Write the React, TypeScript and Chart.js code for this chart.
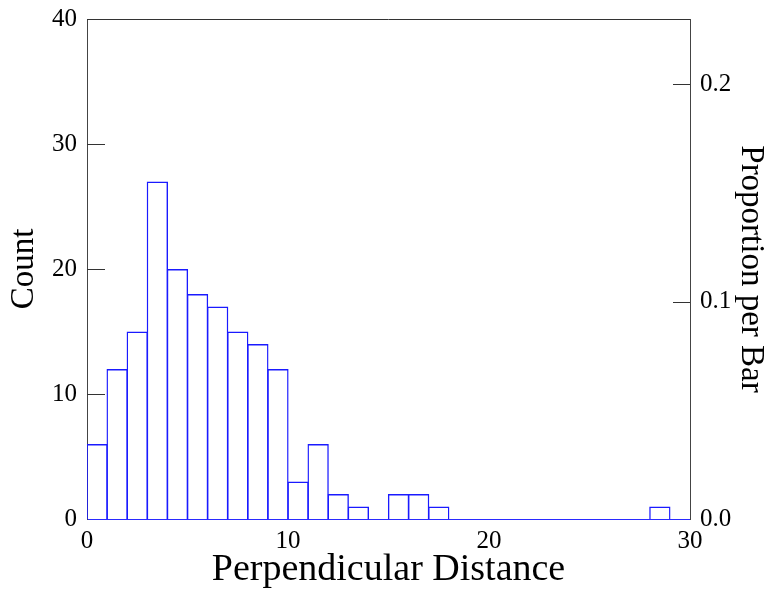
import React, { useEffect, useRef } from 'react';
import { Chart, registerables } from 'chart.js';

Chart.register(...registerables);

// Histogram bins (width 1) starting at these distances
const binStarts = [0, 1, 2, 3, 4, 5, 6, 7, 8, 9, 10, 11, 12, 13, 14, 15, 16, 17, 18, 19, 20, 21, 22, 23, 24, 25, 26, 27, 28, 29];
const counts = [6, 12, 15, 27, 20, 18, 17, 15, 14, 12, 3, 6, 2, 1, 0, 2, 2, 1, 0, 0, 0, 0, 0, 0, 0, 0, 0, 0, 1, 0];
const xTicks = [0, 10, 20, 30];
const countTicks = [0, 10, 20, 30, 40];
const proportionTicks = [0.0, 0.1, 0.2];

const xTitle = 'Perpendicular Distance';
const yTitle = 'Count';
const y2Title = 'Proportion per Bar';

const total = counts.reduce((a, b) => a + b, 0);
const countMax = countTicks[countTicks.length - 1];

const FONT = "'Liberation Serif', 'Times New Roman', serif";

const framePlugin = {
  id: 'frame',
  afterDatasetsDraw(chart: any) {
    const { ctx, chartArea, scales } = chart;
    const { left, right, top } = chartArea;
    ctx.save();
    ctx.strokeStyle = '#333333';
    ctx.lineWidth = 1;
    ctx.beginPath();
    ctx.moveTo(left, top + 0.5);
    ctx.lineTo(right, top + 0.5);
    countTicks.forEach((v) => {
      if (v > countTicks[0] && v < countMax) {
        const y = Math.round(scales.y.getPixelForValue(v)) + 0.5;
        ctx.moveTo(left, y);
        ctx.lineTo(left + 18, y);
      }
    });
    proportionTicks.forEach((v) => {
      if (v > 0) {
        const y = Math.round(scales.y2.getPixelForValue(v)) + 0.5;
        ctx.moveTo(right, y);
        ctx.lineTo(right - 17, y);
      }
    });
    ctx.stroke();
    ctx.restore();
  },
};

export default function App() {
  const ref = useRef<HTMLCanvasElement | null>(null);

  useEffect(() => {
    if (!ref.current) return;
    const chart = new Chart(ref.current, {
      type: 'bar',
      data: {
        datasets: [
          {
            data: binStarts.map((s, i) => ({ x: s + 0.5, y: counts[i] })),
            backgroundColor: 'rgba(255,255,255,0)',
            borderColor: '#1a1aff',
            borderWidth: 1.4,
            barPercentage: 1.06,
            categoryPercentage: 1,
            yAxisID: 'y',
            xAxisID: 'x',
          },
        ],
      },
      options: {
        responsive: false,
        animation: false,
        events: [],
        layout: { padding: { top: 19, left: 0, right: 0, bottom: 0 } },
        plugins: {
          legend: { display: false },
          tooltip: { enabled: false },
          title: { display: false },
        },
        scales: {
          x: {
            type: 'linear',
            position: 'bottom',
            min: xTicks[0],
            max: xTicks[xTicks.length - 1],
            offset: false,
            grid: { display: false, drawTicks: false },
            border: { display: true, color: '#2a2aff', width: 1 },
            afterBuildTicks: (scale: any) => {
              scale.ticks = xTicks.map((v) => ({ value: v }));
            },
            afterFit: (scale: any) => {
              scale.height = 73;
              scale.paddingLeft = 0;
              scale.paddingRight = 0;
            },
            ticks: {
              color: '#000',
              padding: 7,
              maxRotation: 0,
              autoSkip: false,
              font: { family: FONT, size: 25 },
              callback: (v: any) => String(v),
            },
            title: {
              display: true,
              text: xTitle,
              color: '#000',
              font: { family: FONT, size: 38, lineHeight: 1 },
              padding: { top: 0, bottom: 3 },
            },
          },
          y: {
            type: 'linear',
            position: 'left',
            min: countTicks[0],
            max: countMax,
            grid: { display: false, drawTicks: false },
            border: { display: true, color: '#444444', width: 1 },
            afterBuildTicks: (scale: any) => {
              scale.ticks = countTicks.map((v) => ({ value: v }));
            },
            afterFit: (scale: any) => {
              scale.width = 87;
              scale.paddingTop = 0;
              scale.paddingBottom = 0;
            },
            ticks: {
              color: '#000',
              padding: 10,
              autoSkip: false,
              font: { family: FONT, size: 25 },
              callback: (v: any) => String(v),
            },
            title: {
              display: true,
              text: yTitle,
              color: '#000',
              font: { family: FONT, size: 33, lineHeight: 1 },
              padding: { top: 8, bottom: 0 },
            },
          },
          y2: {
            type: 'linear',
            position: 'right',
            min: 0,
            max: countMax / total,
            grid: { display: false, drawTicks: false },
            border: { display: true, color: '#444444', width: 1 },
            afterBuildTicks: (scale: any) => {
              scale.ticks = proportionTicks.map((v) => ({ value: v }));
            },
            afterFit: (scale: any) => {
              scale.width = 85;
              scale.paddingTop = 0;
              scale.paddingBottom = 0;
            },
            ticks: {
              color: '#000',
              padding: 10,
              autoSkip: false,
              font: { family: FONT, size: 25 },
              callback: (v: any) => Number(v).toFixed(1),
            },
            title: {
              display: true,
              text: y2Title,
              color: '#000',
              font: { family: FONT, size: 33, lineHeight: 1 },
              padding: { top: 8, bottom: 0 },
            },
          },
        },
      },
      plugins: [framePlugin],
    } as any);
    return () => chart.destroy();
  }, []);

  return (
    <div style={{ position: 'fixed', left: 0, top: 0, width: 775, height: 592, background: '#fff' }}>
      <canvas ref={ref} width={775} height={592} style={{ width: 775, height: 592, display: 'block' }} />
    </div>
  );
}
